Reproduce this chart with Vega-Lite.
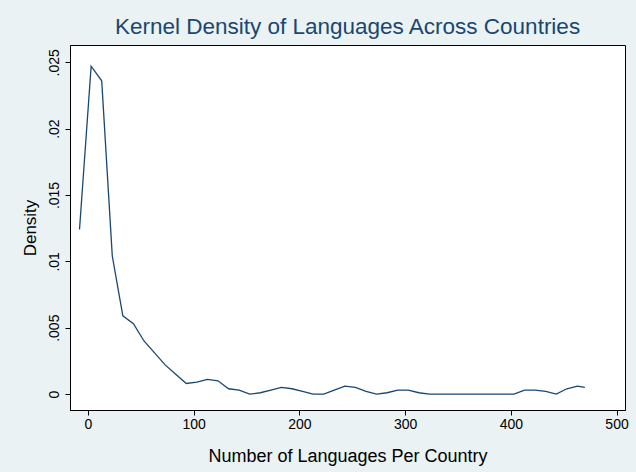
{
  "$schema": "https://vega.github.io/schema/vega-lite/v6.json",
  "autosize": "none",
  "width": 555,
  "height": 365,
  "padding": {"left": 70, "top": 45, "right": 11, "bottom": 62},
  "background": "#EAF2F3",
  "title": {"text": "Kernel Density of Languages Across Countries", "font": "Liberation Sans", "fontSize": 22.5, "fontWeight": "normal", "color": "#1a476f", "offset": 7},
  "config": {"view": {"fill": "white", "stroke": "#000000", "strokeWidth": 1}},
  "data": {"values": [
    {"x": -8, "y": 0.0124}, {"x": 3, "y": 0.0247}, {"x": 13, "y": 0.0236}, {"x": 23, "y": 0.0104},
    {"x": 33, "y": 0.0059}, {"x": 43, "y": 0.0053}, {"x": 53, "y": 0.0040}, {"x": 63, "y": 0.0031},
    {"x": 73, "y": 0.0022}, {"x": 83, "y": 0.0015}, {"x": 93, "y": 0.0008}, {"x": 103, "y": 0.0009},
    {"x": 113, "y": 0.0011}, {"x": 123, "y": 0.0010}, {"x": 133, "y": 0.0004}, {"x": 143, "y": 0.0003},
    {"x": 153, "y": 0.0000}, {"x": 163, "y": 0.0001}, {"x": 173, "y": 0.0003}, {"x": 183, "y": 0.0005},
    {"x": 193, "y": 0.0004}, {"x": 203, "y": 0.0002}, {"x": 213, "y": 0.0000}, {"x": 223, "y": 0.0000},
    {"x": 233, "y": 0.0003}, {"x": 243, "y": 0.0006}, {"x": 253, "y": 0.0005}, {"x": 263, "y": 0.0002},
    {"x": 273, "y": 0.0000}, {"x": 283, "y": 0.0001}, {"x": 293, "y": 0.0003}, {"x": 303, "y": 0.0003},
    {"x": 313, "y": 0.0001}, {"x": 323, "y": 0.0000}, {"x": 343, "y": 0.0000}, {"x": 363, "y": 0.0000},
    {"x": 383, "y": 0.0000}, {"x": 403, "y": 0.0000}, {"x": 413, "y": 0.0003}, {"x": 423, "y": 0.0003},
    {"x": 433, "y": 0.0002}, {"x": 443, "y": 0.0000}, {"x": 453, "y": 0.0004}, {"x": 463, "y": 0.0006},
    {"x": 470, "y": 0.0005}
  ]},
  "mark": {"type": "line", "color": "#1a476f", "strokeWidth": 1.3},
  "encoding": {
    "x": {"field": "x", "type": "quantitative", "title": "Number of Languages Per Country",
      "scale": {"domain": [-17, 508], "nice": false, "zero": false},
      "axis": {"values": [0, 100, 200, 300, 400, 500], "grid": false, "labelFont": "Liberation Sans", "labelFontSize": 14, "labelColor": "#000", "titleFont": "Liberation Sans", "titleFontSize": 18, "titleFontWeight": "normal", "titleColor": "#000", "tickColor": "#000", "domainColor": "#000", "titlePadding": 16}},
    "y": {"field": "y", "type": "quantitative", "title": "Density",
      "scale": {"domain": [-0.0012, 0.0263], "nice": false, "zero": false},
      "axis": {"values": [0, 0.005, 0.01, 0.015, 0.02, 0.025], "labelExpr": "datum.value == 0 ? '0' : replace(format(datum.value, '.3~f'), '0.', '.')", "grid": false, "labelAngle": -90, "labelAlign": "center", "labelBaseline": "bottom", "labelPadding": 4, "labelFont": "Liberation Sans", "labelFontSize": 14, "labelColor": "#000", "titleFont": "Liberation Sans", "titleFontSize": 17, "titleFontWeight": "normal", "titleColor": "#000", "tickColor": "#000", "domainColor": "#000", "titlePadding": 8}}
  }
}
